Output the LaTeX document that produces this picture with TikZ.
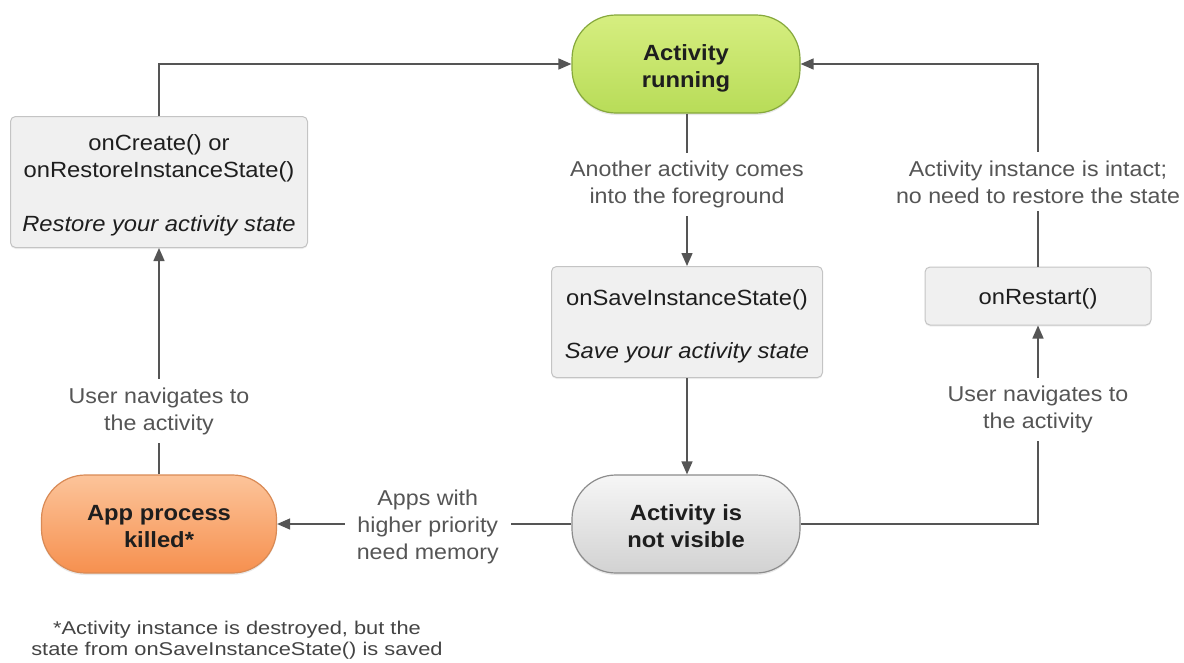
\documentclass[tikz,border=0pt]{standalone}
\usepackage{fontspec}
\setmainfont{Liberation Sans}[FakeStretch=1.08]
\newfontfamily\fnfont{Liberation Sans}[FakeStretch=1.18]
\usetikzlibrary{arrows.meta,shadows}
\definecolor{boxfill}{HTML}{F0F0F0}
\definecolor{boxline}{HTML}{C4C4C4}
\definecolor{textdark}{HTML}{1E1E1E}
\definecolor{lblgray}{HTML}{555555}
\definecolor{lineg}{HTML}{555555}
\definecolor{greentop}{HTML}{D6EE80}
\definecolor{greenbot}{HTML}{B8DC58}
\definecolor{greenline}{HTML}{86A83C}
\definecolor{graytop}{HTML}{F6F6F6}
\definecolor{graybot}{HTML}{D2D2D2}
\definecolor{grayline}{HTML}{8C8C8C}
\definecolor{orangetop}{HTML}{FCC49A}
\definecolor{orangebot}{HTML}{F6904F}
\definecolor{orangeline}{HTML}{D98A55}
\begin{document}
\begin{tikzpicture}[x=1pt,y=-1pt,
  statebox/.style={rounded corners=44pt, minimum height=98pt, line width=1.2pt,
    font=\fontsize{22}{27}\selectfont\bfseries, align=center, text=textdark,
    text height=47pt, text depth=0pt,
    drop shadow={opacity=0.18, shadow xshift=0pt, shadow yshift=-2pt}},
  callbox/.style={rounded corners=5pt, fill=boxfill, draw=boxline, line width=1pt,
    font=\fontsize{22}{27}\selectfont, align=center, text=textdark,
    drop shadow={opacity=0.12, shadow xshift=0pt, shadow yshift=-1.5pt}},
  lbl/.style={font=\fontsize{21.5}{27}\selectfont, text=lblgray, align=center,
    fill=white, inner xsep=12pt, inner ysep=8pt},
  conn/.style={draw=lineg, line width=1.5pt},
  arr/.style={conn, -{Triangle[length=13pt,width=11pt]}}
]
\useasboundingbox (0,0) rectangle (1184,662);

% state nodes
\node[statebox, minimum width=228pt, top color=greentop, bottom color=greenbot, draw=greenline]
  (ar) at (686,64) {Activity\\running};
\node[statebox, minimum width=228pt, top color=graytop, bottom color=graybot, draw=grayline]
  (nv) at (686,524) {Activity is\\not visible};
\node[statebox, minimum width=235pt, top color=orangetop, bottom color=orangebot, draw=orangeline]
  (ak) at (159,524) {App process\\killed*};

% callback boxes
\node[callbox, minimum width=297pt, minimum height=131pt, text height=98.4pt, text depth=0pt] (oc) at (159,182)
  {onCreate() or\\onRestoreInstanceState()\\[27pt]\textit{Restore your activity state}};
\node[callbox, minimum width=271pt, minimum height=111pt, text height=72.4pt, text depth=0pt] (os) at (687,322)
  {onSaveInstanceState()\\[26pt]\textit{Save your activity state}};
\node[callbox, minimum width=226pt, minimum height=58pt, text height=17.4pt, text depth=0pt] (rs) at (1038,296)
  {onRestart()};

\coordinate (cr) at (rs.south |- nv.east);
\coordinate (ct) at (rs.north |- ar.east);

% connectors
\draw[arr] (oc.north) |- (ar.west);
\draw[arr] (ar.south -| os.north) -- node[lbl, pos=0.467] (l1) {Another activity comes\\into the foreground} (os.north);
\draw[arr] (os.south) -- (nv.north -| os.south);
\draw[arr] (nv.west) -- node[lbl, pos=0.488, yshift=-3pt] (l2) {Apps with\\higher priority\\need memory} (ak.east);
\draw[arr] (ak.north) -- node[lbl, pos=0.280] (l3) {User navigates to\\the activity} (oc.south);
\draw[arr] (nv.east) -- (cr) -- node[lbl, pos=0.575] (l4) {User navigates to\\the activity} (rs.south);
\draw[arr] (rs.north) -- node[lbl, pos=0.418] (l5) {Activity instance is intact;\\no need to restore the state} (ct) -- (ar.east);

% footnote
\node[font=\fnfont\fontsize{18.5}{21}\selectfont, text=lblgray!80!black, align=center] (fn) at (237,640)
  {*Activity instance is destroyed, but the\\state from onSaveInstanceState() is saved};
\end{tikzpicture}
\end{document}
